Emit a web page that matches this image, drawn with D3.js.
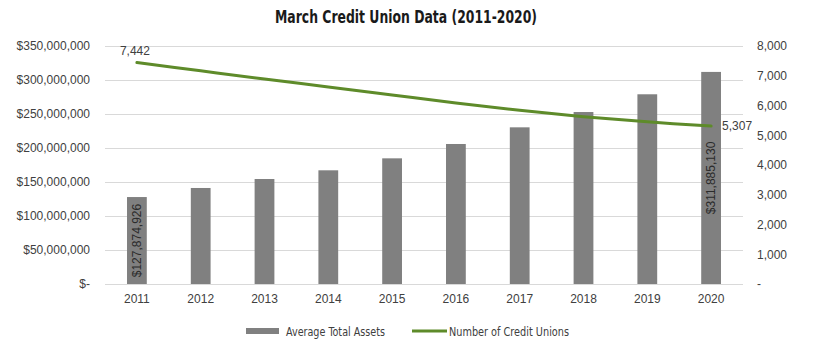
<!DOCTYPE html>
<html>
<head>
<meta charset="utf-8">
<script src="https://cdn.jsdelivr.net/npm/d3@7"></script>
<style>
  html, body { margin: 0; padding: 0; background: #fff; }
  svg { display: block; }
</style>
</head>
<body>
<svg id="chart" width="824" height="348"></svg>
<script>
// March credit union data, 2011-2020
const years = ["2011", "2012", "2013", "2014", "2015", "2016", "2017", "2018", "2019", "2020"];
const avgAssets = [127874926, 141200000, 154400000, 167200000, 184800000, 205900000, 230400000, 252900000, 279000000, 311885130];
const creditUnions = [7442, 7165, 6890, 6625, 6355, 6085, 5840, 5625, 5450, 5307];
const leftTicks = [0, 50000000, 100000000, 150000000, 200000000, 250000000, 300000000, 350000000];
const rightTicks = [0, 1000, 2000, 3000, 4000, 5000, 6000, 7000, 8000];
const title = "March Credit Union Data (2011-2020)";
const seriesNames = ["Average Total Assets", "Number of Credit Unions"];

const svg = d3.select("#chart");
const m = { left: 105, right: 743, top: 46, bottom: 284 };
const axisFont = "'Liberation Sans', Arial, sans-serif";
const condFont = "'Liberation Sans Narrow', 'DejaVu Sans Condensed', Arial, sans-serif";
const textColor = "#404040";
const barColor = "#808080";
const lineColor = "#5e8b2a";

const x = d3.scaleBand().domain(years).range([m.left, m.right]).paddingInner(0.69).paddingOuter(0.345);
const yL = d3.scaleLinear().domain([0, 350000000]).range([m.bottom, m.top]);
const yR = d3.scaleLinear().domain([0, 8000]).range([m.bottom, m.top]);

const money = d3.format(",");
const fmtLeft = v => v === 0 ? "$-" : "$" + money(v);
const fmtRight = v => v === 0 ? "-" : money(v);

// Title
svg.append("text")
  .attr("x", 406).attr("y", 23)
  .attr("text-anchor", "middle")
  .attr("font-family", condFont)
  .attr("font-weight", "bold")
  .attr("font-size", 17)
  .attr("textLength", 262)
  .attr("lengthAdjust", "spacingAndGlyphs")
  .attr("fill", "#1a1a1a")
  .text(title);

// Gridlines
svg.append("g").selectAll("line").data(leftTicks).join("line")
  .attr("x1", m.left).attr("x2", m.right)
  .attr("y1", d => Math.round(yL(d)) + 0.5).attr("y2", d => Math.round(yL(d)) + 0.5)
  .attr("stroke", "#d9d9d9").attr("stroke-width", 1);

// Left axis
const leftAxis = svg.append("g")
  .attr("transform", `translate(${m.left},0)`)
  .call(d3.axisLeft(yL).tickValues(leftTicks).tickFormat(fmtLeft).tickSize(0).tickPadding(15));
leftAxis.select(".domain").remove();
leftAxis.selectAll("text").attr("font-family", axisFont).attr("font-size", 12).attr("fill", textColor);

// Right axis
const rightAxis = svg.append("g")
  .attr("transform", `translate(${m.right},0)`)
  .call(d3.axisRight(yR).tickValues(rightTicks).tickFormat(fmtRight).tickSize(0).tickPadding(14));
rightAxis.select(".domain").remove();
rightAxis.selectAll("text").attr("font-family", axisFont).attr("font-size", 12).attr("fill", textColor);

// Bottom axis
const bottomAxis = svg.append("g")
  .attr("transform", `translate(0,${m.bottom})`)
  .call(d3.axisBottom(x).tickSize(0).tickPadding(10));
bottomAxis.select(".domain").remove();
bottomAxis.selectAll("text").attr("font-family", axisFont).attr("font-size", 12).attr("fill", textColor);

// Bars
svg.append("g").selectAll("rect").data(years).join("rect")
  .attr("x", d => x(d))
  .attr("width", x.bandwidth())
  .attr("y", (d, i) => yL(avgAssets[i]))
  .attr("height", (d, i) => yL(0) - yL(avgAssets[i]))
  .attr("fill", barColor);

// Bar value labels (first and last), rotated, centered in the bar
[0, years.length - 1].forEach(i => {
  const cx = x(years[i]) + x.bandwidth() / 2;
  const cy = (yL(avgAssets[i]) + yL(0)) / 2;
  svg.append("text")
    .attr("transform", `translate(${cx + 4},${cy}) rotate(-90)`)
    .attr("text-anchor", "middle")
    .attr("font-family", axisFont)
    .attr("font-size", 12)
    .attr("fill", "#2b2b2b")
    .text("$" + money(avgAssets[i]));
});

// Line for number of credit unions
const line = d3.line()
  .x((d, i) => x(years[i]) + x.bandwidth() / 2)
  .y(d => yR(d))
  .curve(d3.curveCatmullRom.alpha(0.5));
svg.append("path")
  .datum(creditUnions)
  .attr("d", line)
  .attr("fill", "none")
  .attr("stroke", lineColor)
  .attr("stroke-width", 3)
  .attr("stroke-linecap", "round");

// Line end labels
const firstX = x(years[0]) + x.bandwidth() / 2;
const lastI = years.length - 1;
const lastX = x(years[lastI]) + x.bandwidth() / 2;
svg.append("text")
  .attr("x", firstX - 2).attr("y", yR(creditUnions[0]) - 8)
  .attr("text-anchor", "middle")
  .attr("font-family", axisFont).attr("font-size", 12).attr("fill", textColor)
  .text(money(creditUnions[0]));
svg.append("text")
  .attr("x", lastX + 11).attr("y", yR(creditUnions[lastI]) + 4)
  .attr("text-anchor", "start")
  .attr("font-family", axisFont).attr("font-size", 12).attr("fill", textColor)
  .text(money(creditUnions[lastI]));

// Legend
const legend = svg.append("g").attr("transform", "translate(0,331)");
legend.append("rect").attr("x", 246).attr("y", -3).attr("width", 33).attr("height", 6).attr("fill", barColor);
legend.append("text").attr("x", 286).attr("y", 4.5)
  .attr("font-family", condFont).attr("font-size", 12.5).attr("fill", textColor)
  .attr("textLength", 99).attr("lengthAdjust", "spacingAndGlyphs")
  .text(seriesNames[0]);
legend.append("line").attr("x1", 412).attr("x2", 447).attr("y1", 0).attr("y2", 0)
  .attr("stroke", lineColor).attr("stroke-width", 3);
legend.append("text").attr("x", 449).attr("y", 4.5)
  .attr("font-family", condFont).attr("font-size", 12.5).attr("fill", textColor)
  .attr("textLength", 120).attr("lengthAdjust", "spacingAndGlyphs")
  .text(seriesNames[1]);
</script>
</body>
</html>
